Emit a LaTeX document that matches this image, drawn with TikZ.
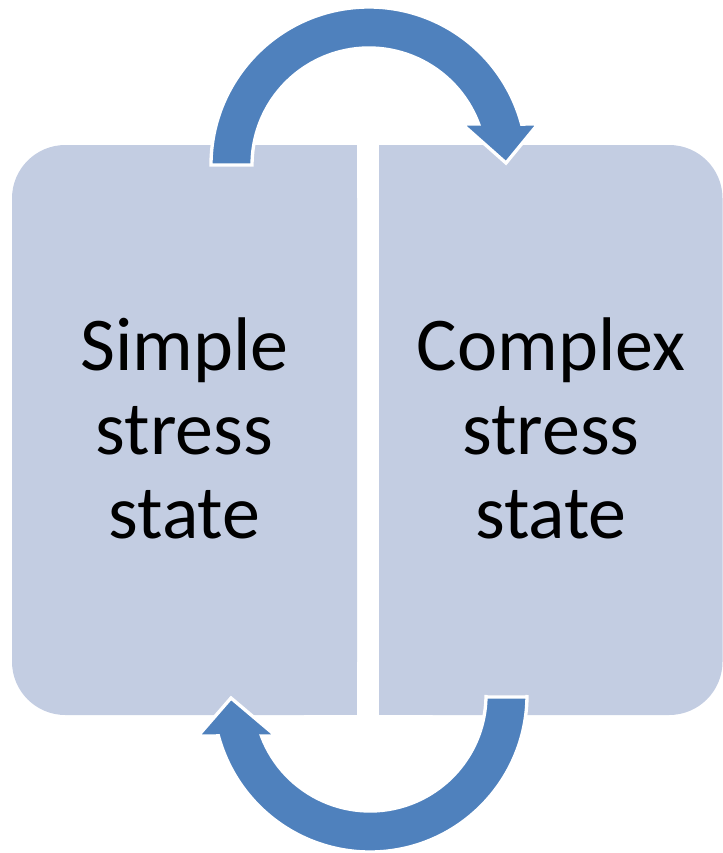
\documentclass[tikz,border=0pt]{standalone}
\usepackage{fontspec}
\setmainfont{Carlito}
\definecolor{boxfill}{RGB}{195,205,226}
\definecolor{arrowblue}{RGB}{79,129,189}
\begin{document}
\begin{tikzpicture}[x=0.75pt,y=-0.75pt,
  boxshape/.style={rectangle,fill=boxfill,draw=none,inner sep=0pt,
    minimum width=258.75pt,minimum height=427.5pt},
  boxtext/.style={align=center,font=\fontsize{57}{63}\selectfont,text=black},
  bigarrow/.style={fill=arrowblue,draw=white,line width=2.5pt,line join=miter}]
\useasboundingbox (0,0) rectangle (723,853);
% left box: rounded on its left side
\node[boxshape,rounded corners=40pt] (Lr) at (184.5,430) {};
\node[boxshape,minimum width=120pt] (Ls) at (277,430) {};
% right box: rounded on its right side
\node[boxshape,minimum width=257.25pt,rounded corners=40pt] (Rr) at (551,430) {};
\node[boxshape,minimum width=120pt] (Rs) at (459,430) {};
\node[boxtext] (L) at (184.5,428) {Simple\\stress\\state};
\node[boxtext] (R) at (551,428) {Complex\\stress\\state};
% top arrow
\draw[bigarrow] (211,165) arc[start angle=180,end angle=345,radius=158]
  -- (538,124) -- (506,163) -- (462,124) -- (478.6,124)
  arc[start angle=339.5,end angle=180,radius=117] -- cycle;
% bottom arrow
\draw[bigarrow] (527,697) -- (527,695) arc[start angle=0,end angle=164.9,radius=157]
  -- (198,736) -- (231,698) -- (276,736) -- (261.5,736)
  arc[start angle=159.3,end angle=0,radius=116] -- (486,697) -- cycle;
\end{tikzpicture}
\end{document}
